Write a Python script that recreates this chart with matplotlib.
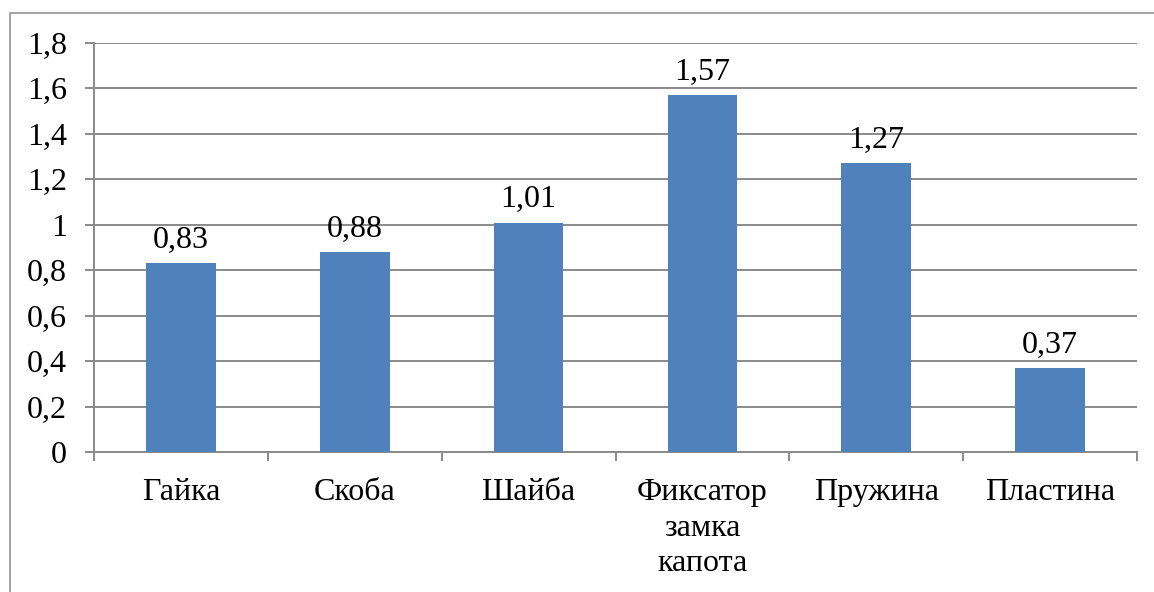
import matplotlib.pyplot as plt
from matplotlib import font_manager
from matplotlib.font_manager import FontProperties
from matplotlib.patches import Rectangle
from matplotlib.ticker import FixedLocator

categories = ["Гайка", "Скоба", "Шайба", "Фиксатор\nзамка\nкапота", "Пружина", "Пластина"]
values = [0.83, 0.88, 1.01, 1.57, 1.27, 0.37]
yticks = [0, 0.2, 0.4, 0.6, 0.8, 1, 1.2, 1.4, 1.6, 1.8]

plt.rcParams['text.hinting'] = 'no_autohint'

# pick the regular Liberation Serif file directly
serif_path = None
for f in font_manager.fontManager.ttflist:
    if f.name == "Liberation Serif" and f.style == "normal" and f.weight in (400, "normal"):
        serif_path = f.fname
        break
fp = FontProperties(fname=serif_path, size=23) if serif_path else FontProperties(family="serif", size=23)

grey = "#8a8a8a"

fig = plt.figure(figsize=(11.54, 5.92), dpi=100)
# outer chart frame, cut off on the right and bottom
fig.patches.append(Rectangle((10 / 1154, -0.1), 1.2, 1 - 13 / 592 + 0.1,
                             transform=fig.transFigure, fill=False,
                             edgecolor=grey, linewidth=1.1))

ax = fig.add_axes([94 / 1154, 1 - 452 / 592, (1137 - 94) / 1154, (452 - 43) / 592])
x = list(range(len(categories)))
ax.bar(x, values, width=0.4, color="#4f81bd", zorder=3)

for xi, v in zip(x, values):
    label = f"{v:.2f}".replace(".", ",")
    ax.annotate(label, (xi, v), xytext=(0, 6), textcoords="offset points",
                ha="center", va="bottom", fontproperties=fp)

ax.set_xlim(-0.5, len(categories) - 0.5)
ax.set_ylim(0, 1.8)
ax.set_yticks(yticks)
ax.set_yticklabels([f"{t:g}".replace(".", ",") for t in yticks], fontproperties=fp)
ax.set_xticks(x)
ax.set_xticklabels(categories, fontproperties=fp, linespacing=1.28)
ax.xaxis.set_minor_locator(FixedLocator([i - 0.5 for i in range(len(categories) + 1)]))
ax.tick_params(axis="x", which="major", length=0, pad=19)
ax.tick_params(axis="x", which="minor", length=6.5, color=grey, width=1.4)
ax.tick_params(axis="y", length=6.5, color=grey, width=1.4, pad=13)

ax.grid(axis="y", color=grey, linewidth=1.4, zorder=0)
for side in ["top", "right"]:
    ax.spines[side].set_visible(False)
for side in ["left", "bottom"]:
    ax.spines[side].set_color(grey)
    ax.spines[side].set_linewidth(1.4)

fig.savefig("out.png", dpi=100)
